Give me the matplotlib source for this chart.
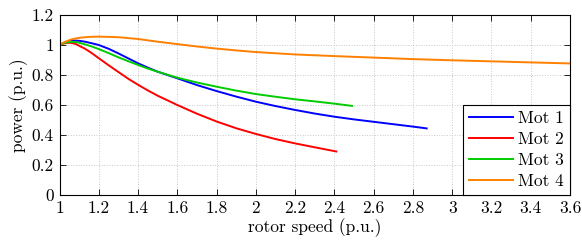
import matplotlib
matplotlib.use("Agg")
import matplotlib.pyplot as plt
from matplotlib.ticker import FormatStrFormatter

plt.rcParams['font.family'] = ['cmr10', 'DejaVu Serif']
plt.rcParams['mathtext.fontset'] = 'cm'
plt.rcParams['axes.unicode_minus'] = False

mot1_x = [1.0, 1.02, 1.04, 1.06, 1.08, 1.1, 1.13, 1.16, 1.2, 1.25, 1.3, 1.35, 1.4, 1.45, 1.5, 1.6, 1.7, 1.8, 1.9, 2.0, 2.1, 2.2, 2.3, 2.4, 2.5, 2.6, 2.7, 2.8, 2.87]
mot1_y = [1.0, 1.013, 1.022, 1.027, 1.029, 1.028, 1.022, 1.013, 1.0, 0.975, 0.944, 0.911, 0.878, 0.849, 0.822, 0.778, 0.733, 0.693, 0.656, 0.622, 0.593, 0.567, 0.543, 0.522, 0.504, 0.488, 0.472, 0.456, 0.444]

mot2_x = [1.0, 1.02, 1.04, 1.06, 1.08, 1.1, 1.13, 1.16, 1.2, 1.25, 1.3, 1.35, 1.4, 1.45, 1.5, 1.6, 1.7, 1.8, 1.9, 2.0, 2.1, 2.2, 2.3, 2.41]
mot2_y = [1.0, 1.01, 1.015, 1.014, 1.008, 0.995, 0.975, 0.95, 0.912, 0.865, 0.82, 0.775, 0.735, 0.697, 0.662, 0.6, 0.542, 0.49, 0.445, 0.407, 0.373, 0.344, 0.318, 0.29]

mot3_x = [1.0, 1.02, 1.04, 1.06, 1.08, 1.1, 1.13, 1.16, 1.2, 1.25, 1.3, 1.35, 1.4, 1.45, 1.5, 1.6, 1.7, 1.8, 1.9, 2.0, 2.1, 2.2, 2.3, 2.4, 2.49]
mot3_y = [1.0, 1.012, 1.019, 1.021, 1.02, 1.015, 1.004, 0.992, 0.973, 0.946, 0.918, 0.892, 0.867, 0.843, 0.822, 0.782, 0.75, 0.722, 0.696, 0.673, 0.655, 0.638, 0.624, 0.609, 0.594]

mot4_x = [1.0, 1.03, 1.06, 1.1, 1.15, 1.2, 1.3, 1.4, 1.5, 1.6, 1.7, 1.8, 1.9, 2.0, 2.2, 2.4, 2.6, 2.8, 3.0, 3.2, 3.4, 3.6]
mot4_y = [1.0, 1.022, 1.037, 1.048, 1.054, 1.056, 1.052, 1.04, 1.022, 1.006, 0.99, 0.976, 0.964, 0.953, 0.937, 0.926, 0.916, 0.906, 0.898, 0.891, 0.884, 0.877]

labels = ["Mot 1", "Mot 2", "Mot 3", "Mot 4"]
colors = ["#0000ff", "#ff0000", "#00cc00", "#ff8000"]

fig = plt.figure(figsize=(5.82, 2.43), dpi=100)
ax = fig.add_axes([59.5/582, 1-195/243, (570-59.5)/582, 180/243])

for (x, y), lab, c in zip([(mot1_x, mot1_y), (mot2_x, mot2_y), (mot3_x, mot3_y), (mot4_x, mot4_y)], labels, colors):
    ax.plot(x, y, color=c, lw=1.4, label=lab, solid_joinstyle='round')

ax.set_xlim(1, 3.6)
ax.set_ylim(0, 1.2)
ax.set_xticks([1, 1.2, 1.4, 1.6, 1.8, 2, 2.2, 2.4, 2.6, 2.8, 3, 3.2, 3.4, 3.6])
ax.set_yticks([0, 0.2, 0.4, 0.6, 0.8, 1, 1.2])
ax.xaxis.set_major_formatter(FormatStrFormatter('%g'))
ax.yaxis.set_major_formatter(FormatStrFormatter('%g'))
ax.tick_params(direction='in', top=True, right=True, length=4, width=0.6, labelsize=12.5, pad=4)
ax.grid(True, linestyle=':', color='#c8c8c8', lw=0.7)
for s in ax.spines.values():
    s.set_linewidth(0.8)
ax.set_xlabel("rotor speed (p.u.)", fontsize=12.5, labelpad=2)
ax.set_ylabel("power (p.u.)", fontsize=12.5, labelpad=3)

leg = ax.legend(loc='lower right', fontsize=12.5, fancybox=False, framealpha=1,
                edgecolor='black', borderaxespad=0, handlelength=2.5,
                labelspacing=0.32, borderpad=0.35, handletextpad=0.3)
leg.get_frame().set_linewidth(0.8)

fig.savefig("out.png", dpi=100)
